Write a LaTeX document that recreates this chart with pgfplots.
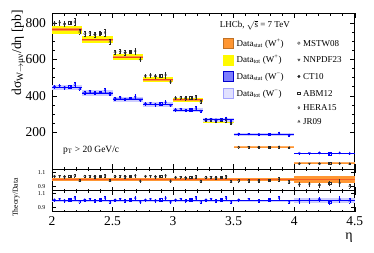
\documentclass[border=0pt]{standalone}
\usepackage{fontspec}
\setmainfont{Liberation Serif}
\usepackage{pgfplots}
\pgfplotsset{compat=1.18}
\definecolor{ostat}{RGB}{255,150,50}
\definecolor{olight}{RGB}{255,175,100}
\definecolor{ytot}{RGB}{255,250,0}
\definecolor{bstat}{RGB}{125,125,255}
\definecolor{btot}{RGB}{205,205,255}
\definecolor{rline}{RGB}{240,70,30}
\definecolor{bline}{RGB}{0,0,255}
\definecolor{mk}{RGB}{40,40,40}
\newcommand{\tickfont}{\fontsize{13.5bp}{16bp}\selectfont}
\newcommand{\legfont}{\fontsize{9bp}{10bp}\selectfont}
% box: style, lo, hi, ylow, yhigh
\newcommand{\bx}[5]{\addplot[#1,draw=none,forget plot] coordinates {(#2,#4) (#3,#4) (#3,#5) (#2,#5)} --cycle;}
% horizontal line: style, lo, hi, y
\newcommand{\hl}[4]{\addplot[#1,forget plot] coordinates {(#2,#4) (#3,#4)};}
\pgfplotsset{
  rootax/.style={scale only axis, width=302.8bp, xmin=2, xmax=4.5,
    axis line style={line width=0.8bp}, tick style={line width=0.6bp, black},
    tick align=inside, xtick={2,2.5,3,3.5,4,4.5}, minor x tick num=4,
    ticklabel style={font=\tickfont}, /pgf/number format/assume math mode=true,
    clip=true},
  th/.style={only marks, mark size=1.2bp, line width=0.35bp, forget plot,
    /pgfplots/error bars/y dir=both, /pgfplots/error bars/y explicit,
    /pgfplots/error bars/error bar style={line width=0.35bp},
    /pgfplots/error bars/error mark options={rotate=90, mark size=0.7bp, line width=0.35bp}},
  mstw/.style={th, mark=o},
  nnpdf/.style={th, mark=triangle, mark options={rotate=180}},
  ct/.style={th, mark=*},
  abm/.style={th, mark=square},
  hera/.style={th, mark=diamond},
  jr/.style={th, mark=triangle},
}
\begin{document}
\begin{tikzpicture}
\path[use as bounding box] (0,0) rectangle (374bp,253bp);
% ---------------- main panel ----------------
\begin{axis}[rootax, at={(52bp,83.7bp)}, anchor=south west, height=156.3bp,
  ymin=-3, ymax=855, ytick={200,400,600,800}, minor y tick num=3,
  xticklabels={}, major tick length=5bp, minor tick length=2.5bp,
  yticklabel style={xshift=-2.5bp},
  legend columns=2,
  legend style={at={(rel axis cs:0.5647,0.842)}, anchor=north west, draw=none, fill=none,
    inner sep=0pt, font=\legfont, row sep=6.3bp, column sep=3bp,
    nodes={inner sep=0pt, text height=6bp, text depth=1.5bp, anchor=base west},
    /tikz/every even column/.append style={column sep=14bp}},
  ]
% W+ total (yellow)
\bx{fill=ytot}{2}{2.25}{742}{786}
\bx{fill=ytot}{2.25}{2.5}{689}{729}
\bx{fill=ytot}{2.5}{2.75}{595}{629}
\bx{fill=ytot}{2.75}{3}{474}{502}
\bx{fill=ytot}{3}{3.25}{367}{389}
\bx{fill=ytot}{3.25}{3.5}{250}{266}
% W+ stat (orange)
\bx{fill=ostat}{2}{2.25}{758}{770}
\bx{fill=ostat}{2.25}{2.5}{703}{715}
\bx{fill=ostat}{2.5}{2.75}{607}{617}
\bx{fill=ostat}{2.75}{3}{483}{493}
\bx{fill=ostat}{3}{3.25}{374}{382}
\bx{fill=ostat}{3.25}{3.5}{254}{262}
\bx{fill=olight}{3.5}{4}{114}{126}
\bx{fill=olight}{4}{4.5}{25}{35}
% W+ central values
\hl{rline,line width=0.9bp}{2}{2.25}{764}
\hl{rline,line width=0.9bp}{2.25}{2.5}{709}
\hl{rline,line width=0.9bp}{2.5}{2.75}{612}
\hl{rline,line width=0.9bp}{2.75}{3}{488}
\hl{rline,line width=0.9bp}{3}{3.25}{378}
\hl{rline,line width=0.9bp}{3.25}{3.5}{258}
\hl{ostat,line width=0.6bp}{3.5}{4}{120}
\hl{ostat,line width=0.6bp}{4}{4.5}{30}
% W- total (light blue)
\bx{fill=btot}{2}{2.25}{430}{462}
\bx{fill=btot}{2.25}{2.5}{401}{431}
\bx{fill=btot}{2.5}{2.75}{368}{396}
\bx{fill=btot}{2.75}{3}{340}{366}
\bx{fill=btot}{3}{3.25}{310}{332}
\bx{fill=btot}{3.25}{3.5}{259}{277}
\bx{fill=btot}{3.5}{4}{182}{194}
\bx{fill=btot}{4}{4.5}{81}{89}
% W- stat
\bx{fill=bstat}{2}{2.25}{441}{451}
\bx{fill=bstat}{2.25}{2.5}{411}{421}
\bx{fill=bstat}{2.5}{2.75}{378}{386}
\bx{fill=bstat}{2.75}{3}{349}{357}
\bx{fill=bstat}{3}{3.25}{317}{325}
\bx{fill=bstat}{3.25}{3.5}{265}{271}
\bx{fill=bstat}{3.5}{4}{185}{191}
\bx{fill=bstat}{4}{4.5}{82}{88}
% W- central values
\hl{bline,line width=0.9bp}{2}{2.25}{446}
\hl{bline,line width=0.9bp}{2.25}{2.5}{416}
\hl{bline,line width=0.9bp}{2.5}{2.75}{382}
\hl{bline,line width=0.9bp}{2.75}{3}{353}
\hl{bline,line width=0.9bp}{3}{3.25}{321}
\hl{bline,line width=0.9bp}{3.25}{3.5}{268}
\hl{bline,line width=0.9bp}{3.5}{4}{188}
\hl{bline,line width=0.9bp}{4}{4.5}{85}
% W+ theory predictions
\addplot[mstw,mk] table[x=x,y=y,y error=e] {
x y e
2.021 798 12
2.271 741 12
2.521 640 11
2.771 510 10
3.021 389 8
3.271 266 6
3.542 118 4
4.042 28 3
};
\addplot[nnpdf,mk] table[x=x,y=y,y error=e] {
x y e
2.063 802 12
2.313 745 12
2.563 643 11
2.813 512 10
3.063 391 8
3.313 267 6
3.625 118 4
4.125 28 3
};
\addplot[ct,mk] table[x=x,y=y,y error=e] {
x y e
2.104 795 14
2.354 737 14
2.604 637 12
2.854 508 11
3.104 388 9
3.354 265 7
3.708 118 4
4.208 28 3
};
\addplot[abm,mk] table[x=x,y=y,y error=e] {
x y e
2.146 802 10
2.396 745 10
2.646 643 9
2.896 510 8
3.146 391 7
3.396 267 5
3.792 119 3
4.292 29 2
};
\addplot[hera,mk] table[x=x,y=y,y error=e] {
x y e
2.188 806 20
2.438 748 20
2.688 646 18
2.938 515 16
3.188 393 13
3.438 268 10
3.875 120 6
4.375 29 4
};
\addplot[jr,mk] table[x=x,y=y,y error=e] {
x y e
2.229 753 12
2.479 698 12
2.729 600 11
2.979 478 10
3.229 369 8
3.479 250 6
3.958 116 4
4.458 27 3
};
% W- theory predictions
\addplot[mstw,bline] table[x=x,y=y,y error=e] {
x y e
2.021 451 8
2.271 420 8
2.521 386 7
2.771 357 7
3.021 324 6
3.271 271 5
3.542 190 4
4.042 85 3
};
\addplot[nnpdf,bline] table[x=x,y=y,y error=e] {
x y e
2.063 455 8
2.313 424 8
2.563 390 7
2.813 360 7
3.063 327 6
3.313 273 5
3.625 192 4
4.125 85 3
};
\addplot[ct,bline] table[x=x,y=y,y error=e] {
x y e
2.104 446 9
2.354 416 9
2.604 382 8
2.854 353 8
3.104 321 7
3.354 268 6
3.708 188 4
4.208 87 3
};
\addplot[abm,bline] table[x=x,y=y,y error=e] {
x y e
2.146 451 7
2.396 420 7
2.646 386 6
2.896 357 6
3.146 324 5
3.396 271 4
3.792 190 3
4.292 83 2
};
\addplot[hera,bline] table[x=x,y=y,y error=e] {
x y e
2.188 462 14
2.438 431 14
2.688 395 12
2.938 365 12
3.188 332 10
3.438 277 8
3.875 195 6
4.375 87 4
};
\addplot[jr,bline] table[x=x,y=y,y error=e] {
x y e
2.229 439 8
2.479 410 8
2.729 376 7
2.979 348 7
3.229 316 6
3.479 264 5
3.958 185 4
4.458 85 3
};
% legend
\pgfplotsset{
  boxleg/.style={legend image code/.code={\draw[##1] (0bp,-2bp) rectangle (10bp,8bp);}},
  mkleg/.style={legend image code/.code={\draw[##1] plot coordinates {(5bp,3bp)};}},
}
\addlegendimage{boxleg, fill=ostat, draw=ostat!75!black}
\addlegendentry{Data\textsubscript{stat} (W\textsuperscript{+})}
\addlegendimage{mkleg, only marks, mark=o, mark size=1.3bp, mk, line width=0.4bp}
\addlegendentry{MSTW08}
\addlegendimage{boxleg, fill=ytot, draw=ytot}
\addlegendentry{Data\textsubscript{tot} (W\textsuperscript{+})}
\addlegendimage{mkleg, only marks, mark=triangle, mark size=1.3bp, mark options={rotate=180}, mk, line width=0.4bp}
\addlegendentry{NNPDF23}
\addlegendimage{boxleg, fill=bstat, draw=blue!80!black}
\addlegendentry{Data\textsubscript{stat} (W\textsuperscript{−})}
\addlegendimage{mkleg, only marks, mark=*, mark size=1.3bp, mk}
\addlegendentry{CT10}
\addlegendimage{boxleg, fill=btot!60, draw=btot!80!blue}
\addlegendentry{Data\textsubscript{tot} (W\textsuperscript{−})}
\addlegendimage{mkleg, only marks, mark=square, mark size=1.3bp, mk, line width=0.4bp}
\addlegendentry{ABM12}
\addlegendimage{empty legend}
\addlegendentry{}
\addlegendimage{mkleg, only marks, mark=diamond, mark size=1.3bp, mk, line width=0.4bp}
\addlegendentry{HERA15}
\addlegendimage{empty legend}
\addlegendentry{}
\addlegendimage{mkleg, only marks, mark=triangle, mark size=1.3bp, mk, line width=0.4bp}
\addlegendentry{JR09}
\node[anchor=west, font=\legfont, inner sep=0pt] at (rel axis cs:0.554,0.923) {LHCb, \(\sqrt{\mathrm{s}}\) = 7 TeV};
\node[anchor=west, font=\fontsize{9.5bp}{11bp}\selectfont, inner sep=0pt] at (rel axis cs:0.036,0.123) {p\textsubscript{T} > 20 GeV/c};
\end{axis}
% ---------------- ratio W+ ----------------
\begin{axis}[rootax, at={(52bp,62.3bp)}, anchor=south west, height=21.4bp,
  ymin=0.84, ymax=1.145, ytick={0.9,1.1}, minor y tick num=1,
  xticklabels={}, major tick length=4bp, minor tick length=2bp,
  yticklabel style={font=\fontsize{6bp}{7bp}\selectfont, xshift=-3bp},
  yticklabels={0.9,1.1}]
\bx{fill=ostat}{2}{3.5}{0.985}{1.015}
\bx{fill=ostat}{3.5}{4}{0.98}{1.02}
\bx{fill=ostat}{4}{4.5}{0.955}{1.045}
\hl{rline!70!ostat,line width=0.5bp}{2}{4.5}{1}
\addplot[mstw,mk] table[x=x,y=y,y error=e] {
x y e
2.021 1.045 0.015
2.271 1.045 0.015
2.521 1.045 0.015
2.771 1.045 0.015
3.021 1.03 0.015
3.271 1.03 0.015
3.542 0.985 0.02
4.042 0.93 0.03
};
\addplot[nnpdf,mk] table[x=x,y=y,y error=e] {
x y e
2.063 1.05 0.015
2.313 1.05 0.015
2.563 1.05 0.015
2.813 1.05 0.015
3.063 1.035 0.015
3.313 1.035 0.015
3.625 0.98 0.02
4.125 0.93 0.03
};
\addplot[ct,mk] table[x=x,y=y,y error=e] {
x y e
2.104 1.04 0.017
2.354 1.04 0.017
2.604 1.04 0.017
2.854 1.04 0.017
3.104 1.025 0.017
3.354 1.025 0.017
3.708 0.98 0.02
4.208 0.92 0.03
};
\addplot[abm,mk] table[x=x,y=y,y error=e] {
x y e
2.146 1.05 0.012
2.396 1.05 0.012
2.646 1.05 0.012
2.896 1.045 0.012
3.146 1.035 0.012
3.396 1.035 0.012
3.792 0.99 0.015
4.292 0.95 0.025
};
\addplot[hera,mk] table[x=x,y=y,y error=e] {
x y e
2.188 1.055 0.025
2.438 1.055 0.025
2.688 1.055 0.025
2.938 1.055 0.025
3.188 1.04 0.025
3.438 1.04 0.025
3.875 1.0 0.03
4.375 0.95 0.05
};
\addplot[jr,mk] table[x=x,y=y,y error=e] {
x y e
2.229 0.985 0.015
2.479 0.985 0.015
2.729 0.98 0.015
2.979 0.98 0.015
3.229 0.975 0.015
3.479 0.97 0.015
3.958 0.965 0.02
4.458 0.91 0.03
};
\end{axis}
% ---------------- ratio W- ----------------
\begin{axis}[rootax, at={(52bp,41.5bp)}, anchor=south west, height=20.8bp,
  ymin=0.845, ymax=1.14, ytick={0.9,1.1}, minor y tick num=1,
  major tick length=4bp, minor tick length=2bp,
  xticklabel style={yshift=-1.5bp},
  yticklabel style={font=\fontsize{6bp}{7bp}\selectfont, xshift=-3bp},
  yticklabels={0.9,1.1}]
\bx{fill=btot}{2}{3.5}{0.985}{1.015}
\bx{fill=btot}{3.5}{4}{0.985}{1.015}
\bx{fill=btot}{4}{4.5}{0.97}{1.03}
\hl{bline,line width=0.6bp}{2}{4.5}{1}
\addplot[mstw,bline] table[x=x,y=y,y error=e] {
x y e
2.021 1.01 0.015
2.271 1.01 0.015
2.521 1.01 0.015
2.771 1.01 0.015
3.021 1.01 0.015
3.271 1.01 0.015
3.542 1.01 0.015
4.042 1.0 0.03
};
\addplot[nnpdf,bline] table[x=x,y=y,y error=e] {
x y e
2.063 1.02 0.015
2.313 1.02 0.015
2.563 1.02 0.015
2.813 1.02 0.015
3.063 1.02 0.015
3.313 1.02 0.015
3.625 1.02 0.015
4.125 1.0 0.03
};
\addplot[ct,bline] table[x=x,y=y,y error=e] {
x y e
2.104 1.0 0.017
2.354 1.0 0.017
2.604 1.0 0.017
2.854 1.0 0.017
3.104 1.0 0.017
3.354 1.0 0.017
3.708 1.0 0.017
4.208 1.02 0.03
};
\addplot[abm,bline] table[x=x,y=y,y error=e] {
x y e
2.146 1.01 0.012
2.396 1.01 0.012
2.646 1.01 0.012
2.896 1.01 0.012
3.146 1.01 0.012
3.396 1.01 0.012
3.792 1.01 0.012
4.292 0.98 0.025
};
\addplot[hera,bline] table[x=x,y=y,y error=e] {
x y e
2.188 1.035 0.025
2.438 1.035 0.025
2.688 1.035 0.025
2.938 1.035 0.025
3.188 1.035 0.025
3.438 1.035 0.025
3.875 1.035 0.025
4.375 1.02 0.04
};
\addplot[jr,bline] table[x=x,y=y,y error=e] {
x y e
2.229 0.985 0.015
2.479 0.985 0.015
2.729 0.985 0.015
2.979 0.985 0.015
3.229 0.985 0.015
3.479 0.985 0.015
3.958 0.985 0.015
4.458 1.0 0.03
};
\end{axis}
\node[rotate=90, anchor=east, font=\fontsize{13.5bp}{16bp}\selectfont, inner sep=0pt] at (18.5bp,243bp)
  {dσ\textsubscript{W\(\rightarrow\)μν}/dη [pb]};
\node[rotate=90, font=\fontsize{7.7bp}{9bp}\selectfont, inner sep=0pt] at (16bp,55.5bp) {Theory/Data};
\node[font=\fontsize{14bp}{16bp}\selectfont, inner sep=0pt] at (349bp,15bp) {η};
\end{tikzpicture}
\end{document}
